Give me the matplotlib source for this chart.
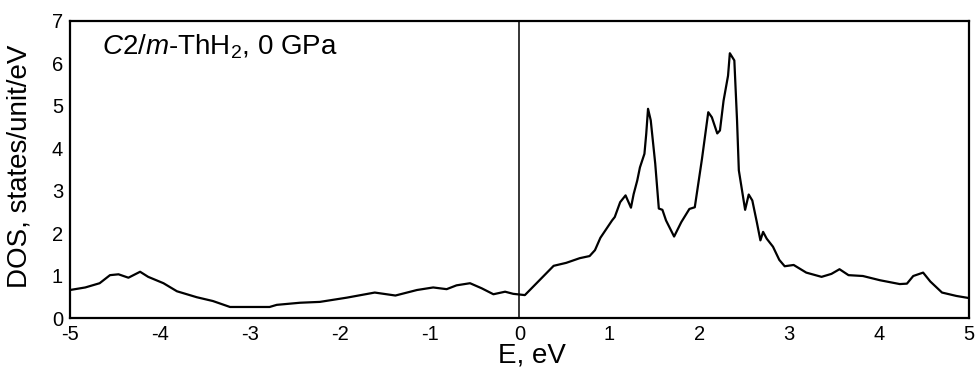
import matplotlib
matplotlib.use("Agg")
import matplotlib.pyplot as plt

plt.rcParams['font.family'] = ['Liberation Sans', 'DejaVu Sans']
plt.rcParams['mathtext.fontset'] = 'custom'
plt.rcParams['mathtext.rm'] = 'Liberation Sans'
plt.rcParams['mathtext.it'] = 'Liberation Sans:italic'
plt.rcParams['axes.unicode_minus'] = False

# 能量 (eV) 与态密度
energy = [-5.0, -4.83, -4.67, -4.555, -4.46, -4.35, -4.22, -4.13, -3.96, -3.81,
          -3.59, -3.41, -3.22, -2.96, -2.78, -2.7, -2.44, -2.22, -1.92, -1.61,
          -1.38, -1.14, -0.96, -0.81, -0.70, -0.55, -0.42, -0.29, -0.16, -0.07,
          0.06, 0.19, 0.38, 0.52, 0.67, 0.78, 0.84, 0.90, 1.03, 1.06,
          1.12, 1.18, 1.24, 1.27, 1.31, 1.34, 1.39, 1.41, 1.43, 1.46,
          1.51, 1.55, 1.59, 1.63, 1.72, 1.80, 1.89, 1.95, 2.03, 2.10,
          2.14, 2.20, 2.23, 2.27, 2.32, 2.34, 2.39, 2.42, 2.44, 2.51,
          2.55, 2.59, 2.64, 2.68, 2.71, 2.75, 2.82, 2.89, 2.95, 3.05,
          3.19, 3.36, 3.47, 3.56, 3.66, 3.82, 4.01, 4.23, 4.31, 4.38,
          4.49, 4.57, 4.70, 4.86, 5.0]
dos = [0.66, 0.72, 0.82, 1.01, 1.03, 0.95, 1.09, 0.97, 0.82, 0.63,
       0.49, 0.40, 0.26, 0.26, 0.26, 0.31, 0.36, 0.38, 0.48, 0.60,
       0.53, 0.66, 0.72, 0.68, 0.77, 0.82, 0.70, 0.56, 0.62, 0.57,
       0.54, 0.82, 1.23, 1.30, 1.41, 1.46, 1.60, 1.89, 2.30, 2.38,
       2.73, 2.89, 2.60, 2.92, 3.24, 3.55, 3.87, 4.34, 4.93, 4.66,
       3.64, 2.58, 2.55, 2.30, 1.92, 2.26, 2.57, 2.61, 3.75, 4.85,
       4.73, 4.35, 4.42, 5.12, 5.71, 6.24, 6.07, 4.66, 3.48, 2.55,
       2.91, 2.77, 2.26, 1.83, 2.03, 1.87, 1.68, 1.37, 1.22, 1.25,
       1.07, 0.97, 1.04, 1.15, 1.01, 0.99, 0.89, 0.80, 0.81, 0.99,
       1.07, 0.86, 0.60, 0.52, 0.47]

x_ticks = [-5, -4, -3, -2, -1, 0, 1, 2, 3, 4, 5]
y_ticks = [0, 1, 2, 3, 4, 5, 6, 7]

fig = plt.figure(figsize=(9.76, 3.74), dpi=100)
ax = fig.add_axes([0.0717, 0.1497, 0.9211, 0.7942])

ax.plot(energy, dos, color='black', lw=1.6)
ax.axvline(0, color='black', lw=1.1)

ax.set_xlim(-5, 5)
ax.set_ylim(0, 7)
ax.set_xticks(x_ticks)
ax.set_yticks(y_ticks)
ax.tick_params(length=0, labelsize=14.5, pad=5)
for s in ax.spines.values():
    s.set_linewidth(1.6)

ax.set_xlabel('E, eV', fontsize=20)
ax.xaxis.set_label_coords(0.514, -0.082)
ax.set_ylabel('DOS, states/unit/eV', fontsize=20)
ax.yaxis.set_label_coords(-0.042, 0.51)
ax.text(0.036, 0.886, r'$\mathit{C2/m}$-ThH$_2$, 0 GPa', transform=ax.transAxes,
        fontsize=20, va='baseline')

plt.savefig('out.png', dpi=100)
